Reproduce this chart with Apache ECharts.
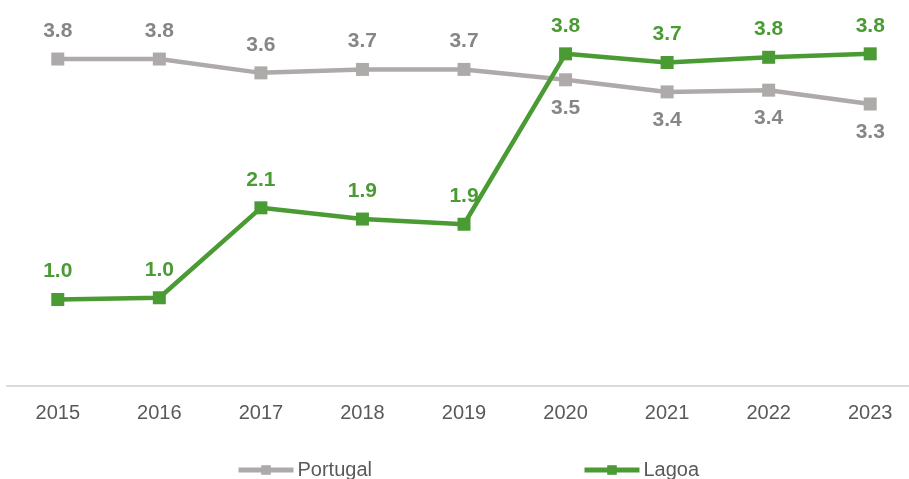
<!DOCTYPE html>
<html>
<head>
<meta charset="utf-8">
<script src="https://cdn.jsdelivr.net/npm/echarts@6/dist/echarts.min.js"></script>
<style>
  html, body { margin: 0; padding: 0; background: #ffffff; }
  #chart { width: 909px; height: 479px; }
</style>
</head>
<body>
<div id="chart"></div>
<script>
// data
const years = ['2015', '2016', '2017', '2018', '2019', '2020', '2021', '2022', '2023'];
const portugal = [3.78, 3.78, 3.62, 3.66, 3.66, 3.54, 3.40, 3.42, 3.26];
const lagoa = [1.00, 1.02, 2.06, 1.93, 1.87, 3.84, 3.74, 3.80, 3.84];

const GREY = '#aeaaaa';
const GREY_TEXT = '#868686';
const GREEN = '#4b9b35';
const FONT = '"Liberation Sans", Arial, sans-serif';

const chart = echarts.init(document.getElementById('chart'));

// Portugal labels flip below the line once Lagoa overtakes it
const portugalData = portugal.map((v, i) => ({
  value: v,
  label: { position: i >= 5 ? 'bottom' : 'top' }
}));

const labelStyle = (color) => ({
  show: true,
  position: 'top',
  distance: 11,
  color: color,
  fontFamily: FONT,
  fontSize: 21,
  fontWeight: 'bold',
  formatter: p => p.value.toFixed(1)
});

chart.setOption({
  backgroundColor: '#ffffff',
  animation: false,
  // plot area runs a little past the right edge, as in the original
  grid: { left: 7, width: 914, top: 40, bottom: 93, outerBoundsMode: 'none' },
  legend: {
    left: 236,
    top: 460,
    padding: 0,
    itemWidth: 55,
    itemHeight: 12,
    itemGap: 210,
    lineStyle: { width: 5 },
    textStyle: { color: '#595959', fontFamily: FONT, fontSize: 20, padding: [0, 0, 0, -1] },
    data: ['Portugal', 'Lagoa']
  },
  xAxis: {
    type: 'category',
    data: years,
    boundaryGap: true,
    axisLine: { lineStyle: { color: '#d9d9d9', width: 2 } },
    axisTick: { show: false },
    axisLabel: { color: '#595959', fontFamily: FONT, fontSize: 20, margin: 17 }
  },
  yAxis: {
    type: 'value',
    min: 0,
    max: 4,
    show: false,
    splitLine: { show: false }
  },
  series: [
    {
      name: 'Portugal',
      type: 'line',
      data: portugalData,
      symbol: 'rect',
      symbolSize: 13,
      itemStyle: { color: GREY },
      lineStyle: { color: GREY, width: 4.5 },
      label: labelStyle(GREY_TEXT),
      z: 2
    },
    {
      name: 'Lagoa',
      type: 'line',
      data: lagoa,
      symbol: 'rect',
      symbolSize: 13,
      itemStyle: { color: GREEN },
      lineStyle: { color: GREEN, width: 4.5 },
      label: labelStyle(GREEN),
      z: 3
    }
  ]
});
</script>
</body>
</html>
